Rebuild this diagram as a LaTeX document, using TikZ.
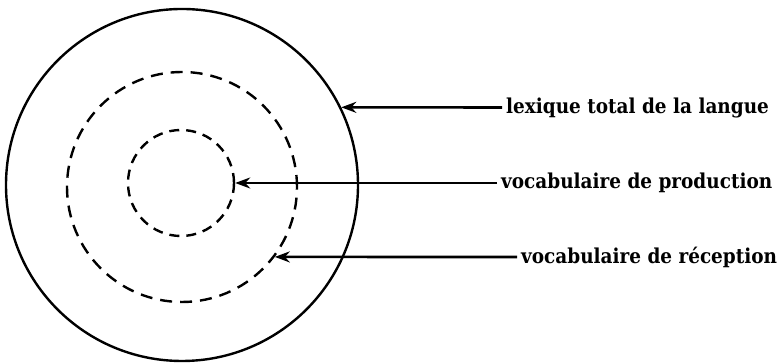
\documentclass[tikz,border=0pt]{standalone}
\usepackage{fontspec}
\setmainfont{DejaVu Serif Condensed}
\usetikzlibrary{arrows.meta}

\tikzset{
  ring/.style={circle,draw,line width=2.4pt,inner sep=0pt},
  dashring/.style={ring,dash pattern=on 12pt off 8pt},
  legend/.style={anchor=west,inner sep=4pt,font=\bfseries\fontsize{20.5}{24}\selectfont},
  pointer/.style={line width=2.6pt,-{Stealth[length=15pt,width=11pt]}}
}

\begin{document}
\begin{tikzpicture}[x=1pt,y=1pt]
  \useasboundingbox (0,0) rectangle (780,363);

  % the three rings
  \node[ring,minimum size=352pt] (outer) at (182,178) {};
  \node[dashring,minimum size=230pt] (middle) at (182,176) {};
  \node[dashring,dash pattern=on 10pt off 7pt,minimum size=106pt] (inner) at (181,180) {};

  % legends
  \node[legend] (lexique) at (502,255.5) {lexique total de la langue};
  \node[legend] (production) at (497,180) {vocabulaire de production};
  \node[legend] (reception) at (517,106) {vocabulaire de réception};

  \draw[pointer] (lexique.west) -- (outer.26);
  \draw[pointer] (production.west) -- (inner.0);
  \draw[pointer] (reception.west) -- (middle.-37.5);
\end{tikzpicture}
\end{document}
